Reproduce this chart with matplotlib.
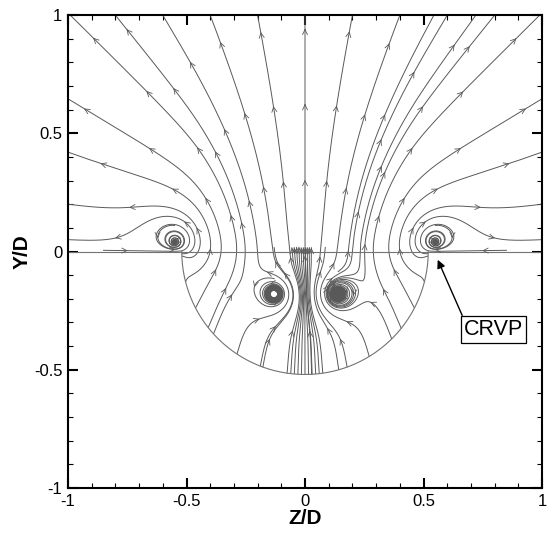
import cmath
import math

import numpy as np
import matplotlib
matplotlib.use("Agg")
from matplotlib import pyplot as plt
from matplotlib.ticker import MultipleLocator, FuncFormatter

# ---- flow model -------------------------------------------------------
HOLE_R    = 0.52    # radius of the hole cross-section (Y/D < 0)
SRC_Q     = 0.08    # point source at the hole centre
SEG_SIGMA = 1.6     # source density across the hole opening
LIFT      = 1.0     # extra upward push over the opening
LIFT_L    = 0.2     # decay height of that push

# vortices: centre, circulation (ccw > 0), inflow, radial pull, ring radius,
# reach, wall image
VORT_X     = [-0.55, 0.55, -0.13, 0.14]
VORT_Y     = [0.04, 0.04, -0.18, -0.18]
VORT_G     = [0.7, -0.7, 2.0, -2.0]
VORT_SINK  = [0.05, 0.05, 0.0, 0.0]
VORT_PULL  = [0.0, 0.0, 5.0, 4.0]
VORT_RING  = [0.0, 0.0, 0.0, 0.072]
VORT_REACH = [0.0, 0.0, 0.13, 0.13]
VORT_WALL  = [True, True, False, False]

# seeds
TOP_X    = [-0.99, -0.8, -0.6, -0.4, -0.2, 0.0, 0.2, 0.4, 0.6, 0.8, 0.99]
SIDE_Y   = [0.05, 0.2, 0.42, 0.645]
BUNDLE_X = [-0.06, -0.045, -0.03, -0.015, 0.0, 0.015, 0.03, 0.045, 0.06, 0.075]
ARC_DEG  = [250, 290]
SPIRAL_X = [-0.55, -0.85, 0.55, 0.85, -0.13, 0.14, 0.14]
SPIRAL_Y = [0.11, 0.005, 0.11, 0.005, -0.115, -0.085, -0.13]
SPIRAL_L = [3.0, 3.0, 3.0, 3.0, 4.0, 8.0, 8.0]


def velocity(x, y):
    zz = complex(x, abs(y) + 1e-9)
    w = SRC_Q / (2 * math.pi * zz) + SEG_SIGMA / (2 * math.pi) * (
        cmath.log(zz + HOLE_R) - cmath.log(zz - HOLE_R))
    us, vs = w.real, -w.imag
    # converge below the opening, spread above it, damped at the wall
    u = us * math.tanh(y / 0.06)
    v = vs + LIFT * 0.5 * (1 - math.tanh((abs(x) - 0.45) / 0.08)) \
        * math.exp(-abs(y) / LIFT_L)
    for xv, yv, g, m, c, r0, reach, wall in zip(
            VORT_X, VORT_Y, VORT_G, VORT_SINK, VORT_PULL, VORT_RING,
            VORT_REACH, VORT_WALL):
        parts = [(xv, yv, g, m)]
        if wall:
            parts.append((xv, -yv, -g, m))
        for px, py, pg, pm in parts:
            dx, dy = x - px, y - py
            r2 = dx * dx + dy * dy + 1e-5
            k = 1 / (2 * math.pi * r2)
            if reach > 0:
                k *= math.exp(-r2 / reach ** 2)
            u += k * (-pg * dy - pm * dx)
            v += k * (pg * dx - pm * dy)
        if c > 0:
            # pull towards the core (r0 = 0) or onto a closed ring
            dx, dy = x - xv, y - yv
            r = math.hypot(dx, dy) + 1e-9
            a = -c * (r - r0) * math.exp(-(r / 0.12) ** 2)
            u += a * dx / r
            v += a * dy / r
    return u, v


def inside(x, y):
    if abs(x) > 1 or abs(y) > 1:
        return False
    if y < 0 and x * x + y * y > HOLE_R ** 2:
        return False
    return True


def at_core(x, y):
    for xv, yv, m, c, r0 in zip(VORT_X, VORT_Y, VORT_SINK, VORT_PULL,
                                VORT_RING):
        if (m > 0 or (c > 0 and r0 == 0)) and math.hypot(x - xv, y - yv) < 0.003:
            return True
    return False


def trace(x0, y0, sign=1.0, ds=0.003, max_len=6.0, y_stop=None):
    def f(px, py):
        u, v = velocity(px, py)
        sp = math.hypot(u, v) + 1e-12
        return sign * u / sp, sign * v / sp

    pts = [(x0, y0)]
    x, y = x0, y0
    for _ in range(int(max_len / ds)):
        k1 = f(x, y)
        k2 = f(x + 0.5 * ds * k1[0], y + 0.5 * ds * k1[1])
        k3 = f(x + 0.5 * ds * k2[0], y + 0.5 * ds * k2[1])
        k4 = f(x + ds * k3[0], y + ds * k3[1])
        x += ds / 6 * (k1[0] + 2 * k2[0] + 2 * k3[0] + k4[0])
        y += ds / 6 * (k1[1] + 2 * k2[1] + 2 * k3[1] + k4[1])
        if not inside(x, y):
            break
        pts.append((x, y))
        if y_stop is not None and y > y_stop:
            break
        if at_core(x, y):
            break
    return np.array(pts)


def full_line(x0, y0):
    back = trace(x0, y0, sign=-1.0)
    fwd = trace(x0, y0, sign=1.0)
    return np.vstack([back[::-1], fwd[1:]])


def draw_line(ax, pts, spacing=0.32, offset=0.18, end_arrow=False):
    ax.plot(pts[:, 0], pts[:, 1], color="0.35", lw=0.7)
    seg = np.hypot(np.diff(pts[:, 0]), np.diff(pts[:, 1]))
    cum = np.concatenate([[0], np.cumsum(seg)])
    marks = list(np.arange(offset, cum[-1] - 0.05, spacing))
    if end_arrow:
        marks = [cum[-1] - 0.002]
    for s in marks:
        i = int(np.searchsorted(cum, s))
        i = min(max(i, 2), len(pts) - 1)
        ax.annotate("", xy=pts[i], xytext=pts[i - 2],
                    arrowprops=dict(arrowstyle="->", color="0.35", lw=0.6,
                                    mutation_scale=9, shrinkA=0, shrinkB=0))


plt.rcParams["font.family"] = ["Liberation Sans", "DejaVu Sans"]
plt.rcParams["axes.unicode_minus"] = False

fig = plt.figure(figsize=(5.48, 5.38), dpi=100)
ax = fig.add_axes([68 / 548, 50 / 538, 474 / 548, 473 / 538])

# streamlines reaching the top and side edges
for xs in TOP_X:
    draw_line(ax, full_line(xs, 0.999))
for ys in SIDE_Y:
    draw_line(ax, full_line(-0.999, ys))
    draw_line(ax, full_line(0.999, ys))

# lines rising through the hole
for xs in BUNDLE_X:
    y0 = -math.sqrt(HOLE_R ** 2 - xs ** 2) + 0.002
    draw_line(ax, trace(xs, y0, y_stop=0.015), end_arrow=True)
for deg in ARC_DEG:
    t = math.radians(deg)
    p = trace(0.999 * HOLE_R * math.cos(t), 0.999 * HOLE_R * math.sin(t),
              y_stop=0.015)
    draw_line(ax, p, offset=0.12)

# vortex cores
for xs, ys, ln in zip(SPIRAL_X, SPIRAL_Y, SPIRAL_L):
    draw_line(ax, trace(xs, ys, max_len=ln), spacing=0.6, offset=0.1)

# wall and hole outline
ax.plot([-1, 1], [0, 0], color="0.45", lw=0.8)
th = np.linspace(np.pi, 2 * np.pi, 200)
ax.plot(HOLE_R * np.cos(th), HOLE_R * np.sin(th), color="0.45", lw=0.8)

ax.annotate("CRVP", xy=(0.56, -0.035), xytext=(0.795, -0.33),
            fontsize=15.5, ha="center", va="center",
            bbox=dict(boxstyle="square,pad=0.15", fc="white", ec="black", lw=0.9),
            arrowprops=dict(arrowstyle="-|>", color="black", lw=1.0,
                            mutation_scale=12, shrinkA=0, shrinkB=0,
                            relpos=(0.0, 1.0)))

ax.set_xlim(-1, 1)
ax.set_ylim(-1, 1)
for sp in ax.spines.values():
    sp.set_linewidth(1.5)
ax.xaxis.set_major_locator(MultipleLocator(0.5))
ax.yaxis.set_major_locator(MultipleLocator(0.5))
ax.xaxis.set_minor_locator(MultipleLocator(0.1))
ax.yaxis.set_minor_locator(MultipleLocator(0.1))
fmt = FuncFormatter(lambda v, pos: "%g" % round(v, 2))
ax.xaxis.set_major_formatter(fmt)
ax.yaxis.set_major_formatter(fmt)
ax.tick_params(which="both", direction="in", top=True, right=True,
               labelsize=12)
ax.tick_params(which="major", length=7, width=1.5, pad=4)
ax.tick_params(which="minor", length=3.5, width=0.8)
ax.set_xlabel("Z/D", fontsize=15, fontweight="bold", labelpad=0)
ax.set_ylabel("Y/D", fontsize=15, fontweight="bold", labelpad=2)

fig.savefig("out.png", dpi=100)
